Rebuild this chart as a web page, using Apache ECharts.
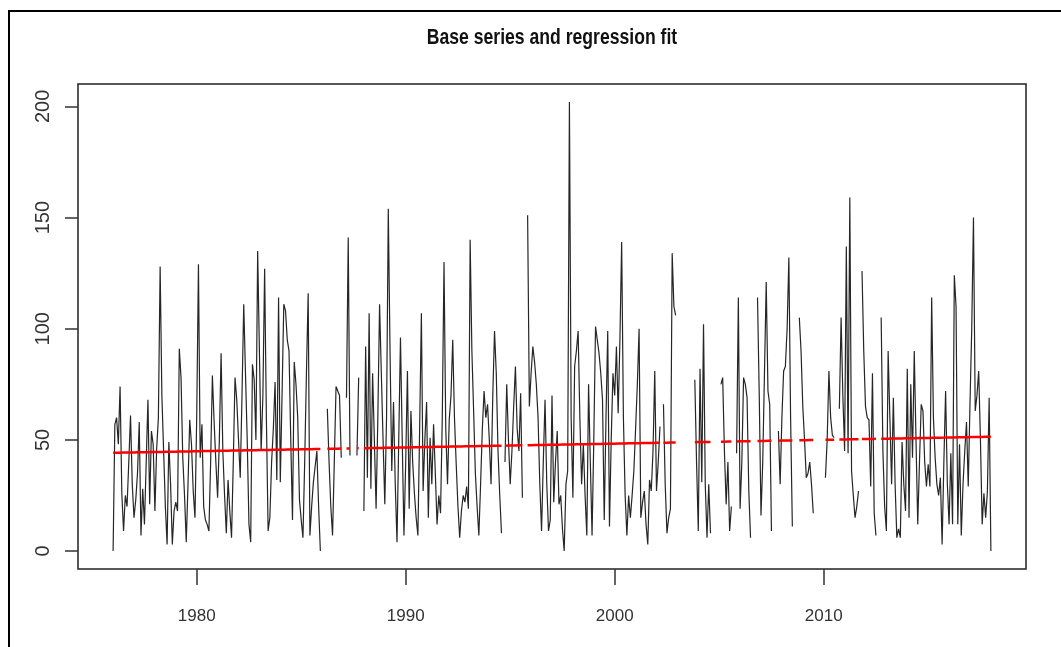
<!DOCTYPE html>
<html>
<head>
<meta charset="utf-8">
<script src="https://cdn.jsdelivr.net/npm/echarts@6/dist/echarts.min.js"></script>
<style>
html,body{margin:0;padding:0;background:#fff;}
#chart{width:1061px;height:647px;}
</style>
</head>
<body>
<div id="chart"></div>
<script>
// Monthly series starting January 1976 (null = missing month)
var startYear = 1976;
var monthsPerYear = 12;

var values1976_1985 = [
  0,57,60,48,74,26,9,25,20,40,61,30,
  15,23,35,58,7,28,12,40,68,21,54,48,
  18,46,60,128,70,45,20,3,49,30,3,18,
  22,18,91,78,42,25,4,30,59,48,27,15,
  60,129,42,57,20,14,12,9,40,79,58,40,
  24,50,89,45,25,8,32,18,6,40,78,68,
  50,33,70,111,80,50,12,4,84,77,50,135,
  90,45,70,127,60,9,15,40,55,76,32,114,
  31,70,111,108,95,90,50,14,85,75,60,23,
  14,6,40,80,116,7,20,31,38,45,20,0
];
var values1986_1995 = [
  null,null,null,64,40,20,7,40,74,72,70,42,
  null,null,69,141,43,null,null,null,43,78,null,null,
  18,92,33,107,28,80,50,19,60,111,80,50,
  21,60,154,90,36,67,30,4,50,96,50,7,
  40,81,19,63,40,26,15,7,55,107,27,50,
  67,15,51,30,57,35,12,25,17,60,130,55,
  30,59,70,95,60,39,20,6,18,25,22,29,
  19,140,90,63,35,20,7,30,55,72,60,66,
  50,30,70,99,80,45,25,8,null,40,75,50,
  30,45,65,83,55,45,71,24,null,null,151,65
];
var values1996_2005 = [
  80,92,85,75,60,30,9,40,68,30,9,14,
  70,22,40,54,21,25,10,0,30,36,202,60,
  24,83,90,99,60,30,48,25,7,75,40,7,
  50,101,95,89,80,68,14,60,99,11,50,80,
  70,92,62,95,139,60,25,7,25,15,25,36,
  55,75,100,15,22,27,12,3,32,27,45,81,
  27,40,56,null,66,30,8,15,19,134,110,106,
  null,null,null,null,null,null,null,null,null,null,77,40,
  9,82,31,102,30,6,30,8,null,null,null,null,
  null,75,78,45,21,40,9,20,null,null,44,114
];
var values2006_2015 = [
  19,40,78,75,69,27,6,null,null,null,114,70,
  16,40,80,121,72,66,9,null,null,null,54,30,
  60,81,83,100,132,60,11,null,null,null,105,90,
  65,50,33,35,40,30,17,null,null,null,null,null,
  null,33,50,81,60,52,51,null,null,64,105,70,
  45,137,44,159,36,25,15,20,27,null,126,90,
  65,60,59,29,80,17,7,null,null,105,45,20,
  9,90,60,30,69,30,6,10,6,49,30,18,
  82,15,75,42,90,50,12,40,66,63,40,29,
  39,29,114,60,42,30,25,33,3,40,72,30
];
var values2016_2018 = [
  12,44,12,124,110,12,48,7,30,45,58,29,
  66,100,150,63,70,81,50,12,26,15,27,69,
  0
];

// Regression fit read at the start (1976) and end (2018) of the series
var fitEnds = [44.2, 51.4];

var xTicks = [1980, 1990, 2000, 2010];
var yTicks = [0, 50, 100, 150, 200];
var titleText = 'Base series and regression fit';

var values = [].concat(values1976_1985, values1986_1995, values1996_2005, values2006_2015, values2016_2018);
var n = values.length;
var t0 = startYear, t1 = startYear + (n - 1) / monthsPerYear;
var seriesData = [], fitData = [];
for (var i = 0; i < n; i++) {
  var t = startYear + i / monthsPerYear;
  var v = values[i];
  seriesData.push([t, v]);
  var f = fitEnds[0] + (fitEnds[1] - fitEnds[0]) * (t - t0) / (t1 - t0);
  fitData.push([t, v === null ? null : f]);
}

var span = t1 - t0;
var xMin = t0 - 0.04 * span, xMax = t1 + 0.04 * span;
var yMin = -0.04 * 202, yMax = 202 + 0.04 * 202;

var fontFam = "'Liberation Sans',Arial,sans-serif";

var chart = echarts.init(document.getElementById('chart'), null, {renderer: 'canvas'});
chart.setOption({
  animation: false,
  backgroundColor: '#ffffff',
  grid: {left: 78, right: 35, top: 84, bottom: 78, show: true, borderColor: '#222', borderWidth: 1.5, backgroundColor: 'transparent'},
  xAxis: {
    type: 'value', min: xMin, max: xMax,
    splitLine: {show: false},
    axisLine: {show: false, onZero: false},
    axisTick: {show: true, customValues: xTicks, length: 16, lineStyle: {color: '#333', width: 1.5}},
    axisLabel: {customValues: xTicks, margin: 39, fontSize: 17, fontFamily: fontFam, color: '#333',
      formatter: function (v) { return String(Math.round(v)); }}
  },
  yAxis: {
    type: 'value', min: yMin, max: yMax,
    splitLine: {show: false},
    axisLine: {show: false, onZero: false},
    axisTick: {show: true, customValues: yTicks, length: 13, lineStyle: {color: '#333', width: 1.5}},
    axisLabel: {customValues: yTicks, rotate: 90, margin: 25, fontSize: 20, fontFamily: fontFam, color: '#333',
      formatter: function (v) { return String(Math.round(v)); }}
  },
  series: [
    {type: 'line', data: seriesData, showSymbol: false, connectNulls: false,
      lineStyle: {color: '#262626', width: 1.2}, silent: true, z: 2},
    {type: 'line', data: fitData, showSymbol: false, connectNulls: false,
      lineStyle: {color: '#ff0000', width: 2.5}, silent: true, z: 3}
  ],
  graphic: [
    {type: 'polyline', shape: {points: [[9, 647], [9, 11], [1061, 11]]},
      style: {stroke: '#000', lineWidth: 2, fill: null}, silent: true},
    {type: 'text', x: 552, y: 38, scaleY: 1.23, silent: true,
      style: {text: titleText, fontFamily: fontFam, fontWeight: 'bold', fontSize: 17.6,
        fill: '#111', align: 'center', verticalAlign: 'middle'}}
  ]
});
</script>
</body>
</html>
